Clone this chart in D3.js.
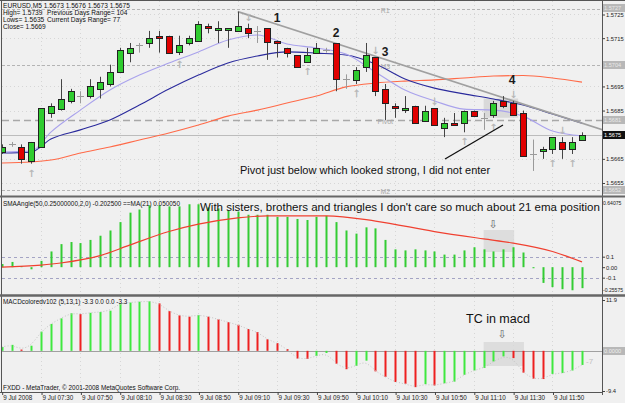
<!DOCTYPE html>
<html><head><meta charset="utf-8">
<script src="https://cdn.jsdelivr.net/npm/d3@7"></script>
<style>
body{margin:0;background:#f0f0f0;}
svg{display:block;font-family:"Liberation Sans",Arial,sans-serif;}
</style></head><body><svg id="c" width="625" height="403"></svg>
<script>
// ---------------- DATA ----------------
const candleOpen  = [1.5668,1.5671,1.5670,1.5664,1.5670,1.5684,1.5686,1.5689,1.5691,1.5691,1.5694,1.5696,1.5701,1.5709,1.5712,1.5713,1.5716,1.5716,1.5709,1.5713,1.5714,1.5720,1.5718,1.5718,1.5718,1.5719,1.5718,1.5719,1.5714,1.5711,1.5708,1.5705,1.5709,1.5710,1.5713,1.5698,1.5698,1.5703,1.5707,1.5694,1.5687,1.5685,1.5687,1.5681,1.5686,1.5678,1.5680,1.5680,1.5685,1.5682,1.5683,1.5689,1.5688,1.5684,1.5667,1.5668,1.5669,1.5672,1.5669,1.5673];
const candleHigh  = [1.5671,1.5672,1.5671,1.5672,1.5686,1.5688,1.5698,1.5694,1.5693,1.5698,1.5699,1.5704,1.5711,1.5713,1.5713,1.5718,1.5718,1.5716,1.5716,1.5716,1.5722,1.5721,1.5722,1.5719,1.5726,1.5721,1.5720,1.5719,1.5714,1.5711,1.5708,1.5711,1.5713,1.5711,1.5713,1.5700,1.5703,1.5713,1.5707,1.5696,1.5688,1.5691,1.5687,1.5687,1.5686,1.5682,1.5684,1.5685,1.5685,1.5684,1.5689,1.5691,1.5689,1.5685,1.5673,1.5670,1.5674,1.5674,1.5674,1.5676];
const candleLow   = [1.5667,1.5670,1.5663,1.5663,1.5670,1.5682,1.5685,1.5688,1.5688,1.5690,1.5690,1.5695,1.5701,1.5705,1.5709,1.5711,1.5709,1.5709,1.5708,1.5712,1.5714,1.5717,1.5713,1.5711,1.5718,1.5715,1.5713,1.5706,1.5707,1.5707,1.5703,1.5705,1.5709,1.5709,1.5693,1.5694,1.5696,1.5701,1.5691,1.5681,1.5682,1.5684,1.5680,1.5681,1.5679,1.5674,1.5679,1.5676,1.5683,1.5677,1.5682,1.5686,1.5683,1.5666,1.5660,1.5665,1.5667,1.5665,1.5667,1.5673];
const candleClose = [1.5670,1.5671,1.5665,1.5672,1.5686,1.5687,1.5690,1.5693,1.5691,1.5695,1.5697,1.5701,1.5710,1.5711,1.5712,1.5715,1.5715,1.5709,1.5712,1.5715,1.5721,1.5719,1.5719,1.5719,1.5720,1.5717,1.5718,1.5713,1.5713,1.5709,1.5703,1.5708,1.5711,1.5710,1.5698,1.5698,1.5702,1.5708,1.5693,1.5688,1.5686,1.5686,1.5680,1.5685,1.5679,1.5680,1.5679,1.5685,1.5683,1.5682,1.5688,1.5687,1.5683,1.5666,1.5667,1.5669,1.5674,1.5669,1.5672,1.5675];

const maBars  = [0,3,5,8,11,14,17,20,23,26,29,32,35,38,41,44,47,50,53,56,59];
const emaFast = [1.56678,1.56682,1.56761,1.56852,1.56935,1.56997,1.57047,1.57093,1.57142,1.57163,1.57126,1.57109,1.57084,1.57010,1.56935,1.56890,1.56856,1.56852,1.56827,1.56765,1.56745];
const emaMid  = [1.56674,1.56678,1.56732,1.56770,1.56811,1.56873,1.56939,1.56997,1.57047,1.57076,1.57093,1.57088,1.57080,1.57043,1.56981,1.56943,1.56919,1.56898,1.56873,1.56836,1.56798];
const emaSlow = [1.56633,1.56637,1.56645,1.56674,1.56699,1.56728,1.56757,1.56790,1.56827,1.56852,1.56881,1.56910,1.56948,1.56964,1.56972,1.56977,1.56985,1.56993,1.56995,1.56985,1.56968];

const trendBars   = [24, 61.1];
const trendPrices = [1.5726, 1.5677];

const levelPrices = [1.5727, 1.5704, 1.5681, 1.5675, 1.5652];
const levelNames  = ["R1", "M3", "Pivot", "", "M2"];
const priceTicks  = [1.5725, 1.5715, 1.5695, 1.5685, 1.5665, 1.5655];

const smaAngle = [0.03,0.05,0.01,-0.02,0.06,0.15,0.22,0.24,0.23,0.26,0.30,0.35,0.43,0.52,0.55,0.59,0.59,0.58,0.58,0.60,0.60,0.57,0.56,0.54,0.53,0.50,0.50,0.50,0.48,0.48,0.46,0.45,0.48,0.49,0.43,0.35,0.32,0.38,0.37,0.26,0.17,0.16,0.17,0.16,0.15,0.12,0.12,0.16,0.19,0.17,0.15,0.17,0.19,0.14,-0.01,-0.15,-0.19,-0.21,-0.22,-0.20];
const smaSigBars = [0,4,6,10,13,17,20,24,27,33,38,44,49,52,56,59];
const smaSig     = [0.00,0.02,0.04,0.11,0.21,0.34,0.41,0.47,0.49,0.49,0.44,0.34,0.27,0.23,0.15,0.05];
const smaTicks      = [0.64075, 0.1, 0, -0.1, -0.25575];
const smaTickLabels = ["0.64075", "0.1", "0.00", "-0.1", "-0.25575"];

const macd = [0.9,1.4,0.3,1.2,4.5,6.3,7.6,8.8,8.6,8.9,9.1,9.4,11.1,11.3,11.5,11.6,11.1,9.3,8.3,8.0,8.4,8.0,7.4,6.7,6.1,5.1,4.4,2.7,1.8,0.4,-1.8,-1.9,-1.2,-0.5,-3.0,-4.3,-3.5,-2.3,-4.8,-6.1,-7.3,-7.7,-8.5,-7.8,-8.1,-7.6,-7.2,-5.6,-4.6,-4.0,-2.5,-1.3,-1.7,-5.1,-6.5,-6.6,-5.4,-5.2,-4.6,-3.3];
const macdTicks      = [11.9, -9.4];
const macdTickLabels = ["11.9", "-9.4"];

const timeTickBars   = [0,4,8,12,16,20,24,28,32,36,40,44,48,52,56];
const timeTickLabels = ["9 Jul 2008","9 Jul 07:30","9 Jul 07:50","9 Jul 08:10","9 Jul 08:30","9 Jul 08:50","9 Jul 09:10","9 Jul 09:30","9 Jul 09:50","9 Jul 10:10","9 Jul 10:30","9 Jul 10:50","9 Jul 11:10","9 Jul 11:30","9 Jul 11:50"];

const fractalUpBars   = [3, 18, 31, 36, 47, 50, 56, 58];
const fractalDownBars = [25, 38, 44, 52, 57];

// ---------------- LAYOUT ----------------
const svg = d3.select("#c");
const AX = 602; // axis line x
const P1 = {t:1, b:196}, P2 = {t:199, b:294}, P3 = {t:297, b:392};

const x  = d3.scaleLinear().domain([0, 59]).range([1.7, 582]);
const yP = d3.scaleLinear().domain([1.5655, 1.5725]).range([183, 14]);
const yS = d3.scaleLinear().domain([-0.25575, 0.64075]).range([294, 200]);
const yM = d3.scaleLinear().domain([-9.4, 11.9]).range([391, 300]);
const bars = d3.range(candleOpen.length);
const rx = i => Math.round(x(i));

svg.append("rect").attr("width",625).attr("height",403).attr("fill","#f0f0f0");

const defs = svg.append("defs");
[["clipP1",P1],["clipP2",P2],["clipP3",P3]].forEach(([id,p]) => {
  defs.append("clipPath").attr("id",id).append("rect")
    .attr("x",2).attr("y",p.t+1).attr("width",AX-2).attr("height",p.b-p.t-1);
});

// faint dotted grid
[P1,P2,P3].forEach(p => {
  svg.append("g").selectAll("line").data(timeTickBars.slice(1)).join("line")
    .attr("x1",i=>rx(i)+0.5).attr("x2",i=>rx(i)+0.5).attr("y1",p.t).attr("y2",p.b)
    .attr("stroke","#d6d6d6").attr("stroke-dasharray","1,3");
});
svg.append("g").selectAll("line").data(priceTicks).join("line")
  .attr("x1",2).attr("x2",AX).attr("y1",d=>Math.round(yP(d))+0.5).attr("y2",d=>Math.round(yP(d))+0.5)
  .attr("stroke","#d6d6d6").attr("stroke-dasharray","1,3");

// ---------------- MAIN PANEL ----------------
const gm = svg.append("g").attr("clip-path","url(#clipP1)");

const levelStyle = [
  {c:"#b4b4b4", d:"3,2", w:1},
  {c:"#b4b4b4", d:"3,2", w:1},
  {c:"#a8a8a8", d:"7,4", w:1.5},
  {c:"#bcbcbc", d:null,  w:1},
  {c:"#b4b4b4", d:"3,2", w:1}];
levelPrices.forEach((p,k) => {
  gm.append("line").attr("x1",2).attr("x2",AX).attr("y1",Math.round(yP(p))+0.5).attr("y2",Math.round(yP(p))+0.5)
    .attr("stroke",levelStyle[k].c).attr("stroke-width",levelStyle[k].w)
    .attr("stroke-dasharray",levelStyle[k].d);
  if (levelNames[k]) gm.append("text").attr("x",x(39)).attr("y",yP(p)+4).attr("text-anchor","middle")
    .attr("font-size",7).attr("fill","#a8a8a8").text(levelNames[k]);
});

// highlight box near "4"
gm.append("rect").attr("x",x(49)).attr("y",yP(1.5690)).attr("width",x(52.5)-x(49)).attr("height",yP(1.5682)-yP(1.5690))
  .attr("fill","#d2d2d2").attr("opacity",0.75);

// moving averages
const maLine = d3.line().x(d=>x(d[0])).y(d=>yP(d[1])).curve(d3.curveMonotoneX);
gm.append("path").attr("d",maLine(d3.zip(maBars,emaSlow))).attr("fill","none").attr("stroke","#ff6a48").attr("stroke-width",1.1);
gm.append("path").attr("d",maLine(d3.zip(maBars,emaMid))).attr("fill","none").attr("stroke","#2a2a9c").attr("stroke-width",1.1);
gm.append("path").attr("d",maLine(d3.zip(maBars,emaFast))).attr("fill","none").attr("stroke","#a9a2ec").attr("stroke-width",1.1);

// trend line
gm.append("line").attr("x1",x(trendBars[0])).attr("y1",yP(trendPrices[0]))
  .attr("x2",x(trendBars[1])).attr("y2",yP(trendPrices[1]))
  .attr("stroke","#a0a0a0").attr("stroke-width",1.8);

// candles
gm.append("g").selectAll("line").data(bars).join("line")
  .attr("x1",i=>rx(i)+0.5).attr("x2",i=>rx(i)+0.5)
  .attr("y1",i=>yP(candleHigh[i])).attr("y2",i=>yP(candleLow[i]))
  .attr("stroke",i=>candleOpen[i]===candleClose[i]?"#9a9a9a":"#444").attr("stroke-width",1);
gm.append("g").selectAll("rect").data(bars.filter(i=>candleOpen[i]!==candleClose[i])).join("rect")
  .attr("x",i=>rx(i)-2.5).attr("width",6)
  .attr("y",i=>Math.round(yP(Math.max(candleOpen[i],candleClose[i])))+0.5)
  .attr("height",i=>Math.max(1,Math.round(Math.abs(yP(candleOpen[i])-yP(candleClose[i])))))
  .attr("fill",i=>candleClose[i]>candleOpen[i]?"#2fcc2f":"#e00000")
  .attr("stroke","#222").attr("stroke-width",1);
gm.append("g").selectAll("line").data(bars.filter(i=>candleOpen[i]===candleClose[i])).join("line")
  .attr("x1",i=>rx(i)-3).attr("x2",i=>rx(i)+4)
  .attr("y1",i=>Math.round(yP(candleOpen[i]))+0.5).attr("y2",i=>Math.round(yP(candleOpen[i]))+0.5)
  .attr("stroke","#9a9a9a");

// fractal arrows
gm.append("g").selectAll("text").data(fractalUpBars).join("text")
  .attr("x",i=>rx(i)+0.5).attr("y",i=>yP(candleLow[i])+13).attr("text-anchor","middle")
  .attr("font-family","DejaVu Sans").attr("font-size",10).attr("font-weight","bold").attr("fill","#b8b8b8").text("↑");
gm.append("g").selectAll("text").data(fractalDownBars).join("text")
  .attr("x",i=>rx(i)+0.5).attr("y",i=>yP(candleHigh[i])-3).attr("text-anchor","middle")
  .attr("font-family","DejaVu Sans").attr("font-size",10).attr("font-weight","bold").attr("fill","#b8b8b8").text("↓");

// annotations
[["1",277,22],["2",336,37],["3",385,56],["4",512,84]].forEach(([t,tx,ty]) =>
  svg.append("text").attr("x",tx).attr("y",ty).attr("text-anchor","middle").attr("font-size",12)
    .attr("font-weight","bold").attr("fill","#1a1a1a").text(t));
svg.append("line").attr("x1",445).attr("y1",159).attr("x2",503).attr("y2",125).attr("stroke","#111").attr("stroke-width",1.3);
svg.append("text").attr("x",240).attr("y",174).attr("font-size",11).attr("fill","#111")
  .text("Pivot just below which looked strong, I did not enter");

// header
const hdr = svg.append("g").attr("font-size",6.6).attr("fill","#111");
hdr.append("text").attr("x",3).attr("y",8).text("EURUSD,M5  1.5673 1.5676 1.5673 1.5675");
hdr.append("text").attr("x",3).attr("y",15).text("High= 1.5739");
hdr.append("text").attr("x",47).attr("y",15).text("Previous Days Range= 104");
hdr.append("text").attr("x",3).attr("y",22).text("Lows= 1.5635");
hdr.append("text").attr("x",47).attr("y",22).text("Current Days Range= 77");
hdr.append("text").attr("x",3).attr("y",29).text("Close= 1.5669");

// ---------------- PANEL 2 (SMAAngle) ----------------
const g2 = svg.append("g").attr("clip-path","url(#clipP2)");
[0.1,-0.1].forEach(v => g2.append("line").attr("x1",2).attr("x2",AX)
  .attr("y1",Math.round(yS(v))+0.5).attr("y2",Math.round(yS(v))+0.5)
  .attr("stroke","#a4a4c4").attr("stroke-dasharray","3,3"));
g2.append("rect").attr("x",x(49)).attr("y",230).attr("width",x(52.1)-x(49)).attr("height",22).attr("fill","#d8d8d8").attr("opacity",0.8);
g2.append("g").selectAll("rect").data(bars).join("rect")
  .attr("x",i=>rx(i)-0.5).attr("width",2)
  .attr("y",i=>Math.min(yS(0),yS(smaAngle[i])))
  .attr("height",i=>Math.max(1,Math.abs(yS(0)-yS(smaAngle[i]))))
  .attr("fill","#33cc33");
g2.append("path").attr("d",d3.line().x(d=>x(d[0])).y(d=>yS(d[1])).curve(d3.curveMonotoneX)(d3.zip(smaSigBars,smaSig)))
  .attr("fill","none").attr("stroke","#f04030").attr("stroke-width",1.2);
svg.append("text").attr("x",3).attr("y",206).attr("font-size",6.4).attr("fill","#111")
  .text("SMAAngle(50,0.25000000,2,0) -0.202500  ==MA(21) 0.050050");
svg.append("text").attr("x",200).attr("y",211).attr("font-size",11.5).attr("fill","#111")
  .text("With sisters, brothers and triangles I don't care so much  about 21 ema position");
svg.append("text").attr("x",493).attr("y",228).attr("text-anchor","middle").attr("font-family","DejaVu Sans")
  .attr("font-size",11).attr("fill","#666").text("⇩");

// ---------------- PANEL 3 (MACD) ----------------
const g3 = svg.append("g").attr("clip-path","url(#clipP3)");
g3.append("rect").attr("x",x(49)).attr("y",342).attr("width",x(53.1)-x(49)).attr("height",24).attr("fill","#d8d8d8").attr("opacity",0.8);
g3.append("line").attr("x1",2).attr("x2",AX).attr("y1",Math.round(yM(0))+0.5).attr("y2",Math.round(yM(0))+0.5).attr("stroke","#a0a0a0");
g3.append("g").selectAll("rect").data(bars).join("rect")
  .attr("x",i=>rx(i)-0.5).attr("width",2)
  .attr("y",i=>Math.min(yM(0),yM(macd[i])))
  .attr("height",i=>Math.abs(yM(0)-yM(macd[i])))
  .attr("fill",i=>(i===0||macd[i]>=macd[i-1])?"#3ee83e":"#ee2020");
g3.append("path").attr("d",d3.line().x((d,i)=>x(i)).y(d=>yM(d)).curve(d3.curveBasis)(macd))
  .attr("fill","none").attr("stroke","#c4c4c4").attr("stroke-dasharray","1,2");
svg.append("text").attr("x",3).attr("y",304).attr("font-size",6.4).attr("fill","#111")
  .text("MACDcoloredv102 (5,13,1) -3.3 0.0 0.0 -3.3");
svg.append("text").attr("x",3).attr("y",390).attr("font-size",6.4).attr("fill","#111")
  .text("FXDD - MetaTrader, © 2001-2008 MetaQuotes Software Corp.");
svg.append("text").attr("x",466).attr("y",323).attr("font-size",12.5).attr("fill","#111").text("TC in macd");
svg.append("text").attr("x",502).attr("y",338).attr("text-anchor","middle").attr("font-family","DejaVu Sans")
  .attr("font-size",11).attr("fill","#666").text("⇩");
svg.append("text").attr("x",586).attr("y",364).attr("font-size",8).attr("fill","#c0c0c0").text("-7");

// ---------------- FRAMES ----------------
const fr = svg.append("g").attr("fill","none").attr("stroke","#555");
fr.append("line").attr("x1",1.5).attr("x2",1.5).attr("y1",0).attr("y2",P3.b).attr("stroke-width",1);
fr.append("line").attr("x1",AX+0.5).attr("x2",AX+0.5).attr("y1",0).attr("y2",P3.b+3).attr("stroke-width",1);
fr.append("line").attr("x1",0).attr("x2",625).attr("y1",0.5).attr("y2",0.5);
[[196.5,2],[295.5,2.5]].forEach(([yy,w]) => fr.append("line").attr("x1",0).attr("x2",625).attr("y1",yy).attr("y2",yy).attr("stroke-width",w).attr("stroke","#666"));
fr.append("line").attr("x1",0).attr("x2",AX).attr("y1",P3.b+0.5).attr("y2",P3.b+0.5);

// ---------------- AXES ----------------
const axP = svg.append("g").attr("transform",`translate(${AX},0)`)
  .call(d3.axisRight(yP).tickValues(priceTicks).tickSize(3).tickPadding(1).tickFormat(d3.format(".4f")));
const axS = svg.append("g").attr("transform",`translate(${AX},0)`)
  .call(d3.axisRight(yS).tickValues(smaTicks).tickSize(3).tickPadding(1).tickFormat((d,k)=>smaTickLabels[k]));
const axM = svg.append("g").attr("transform",`translate(${AX},0)`)
  .call(d3.axisRight(yM).tickValues(macdTicks).tickSize(3).tickPadding(1).tickFormat((d,k)=>macdTickLabels[k]));
[axP,axS,axM].forEach(a => {
  a.select(".domain").remove();
  a.selectAll("line").attr("stroke","#444");
  a.selectAll("text").attr("font-size",5.8).attr("fill","#222").attr("font-family","Liberation Sans, Arial");
});
axP.selectAll(".tick").filter(d=>d===priceTicks[0]).attr("transform",`translate(0,${yP(priceTicks[0])+1})`);
const extremes = axS.selectAll(".tick").filter(d=>d===smaTicks[0]||d===smaTicks[4]);
extremes.select("line").remove();
extremes.select("text").attr("x",1).attr("font-size",5.1);
axS.selectAll(".tick").filter(d=>d===smaTicks[0]).attr("transform",`translate(0,${yS(smaTicks[0])+3})`);
axS.selectAll(".tick").filter(d=>d===smaTicks[4]).attr("transform",`translate(0,${yS(smaTicks[4])-4})`);

// price boxes
levelPrices.forEach((p,k) => {
  const dark = (p === 1.5675);
  const yy = Math.round(yP(p)) - (k === 0 ? 1 : 0);
  svg.append("rect").attr("x",AX+1).attr("y",yy-4).attr("width",22).attr("height",8)
    .attr("fill",dark?"#111":"#b8b8b8");
  svg.append("text").attr("x",AX+2).attr("y",yy+2.2).attr("font-size",5.6)
    .attr("fill",dark?"#fff":"#e8e8e8").text(d3.format(".4f")(p));
});
svg.append("rect").attr("x",AX+1).attr("y",Math.round(yM(0))-4).attr("width",22).attr("height",8).attr("fill","#b8b8b8");
svg.append("text").attr("x",AX+2).attr("y",Math.round(yM(0))+2.2).attr("font-size",5.6).attr("fill","#eee").text("0.0000");

// time axis
const axT = svg.append("g").attr("transform",`translate(0,${P3.b})`)
  .call(d3.axisBottom(x).tickValues(timeTickBars).tickSize(3).tickPadding(1).tickFormat((d,k)=>timeTickLabels[k]));
axT.select(".domain").remove();
axT.selectAll("line").attr("stroke","#444").attr("transform","translate(0.5,0)");
axT.selectAll("text").attr("text-anchor","start").attr("x",1).attr("font-size",6.3).attr("fill","#222")
  .attr("font-family","Liberation Sans, Arial");
</script></body></html>
